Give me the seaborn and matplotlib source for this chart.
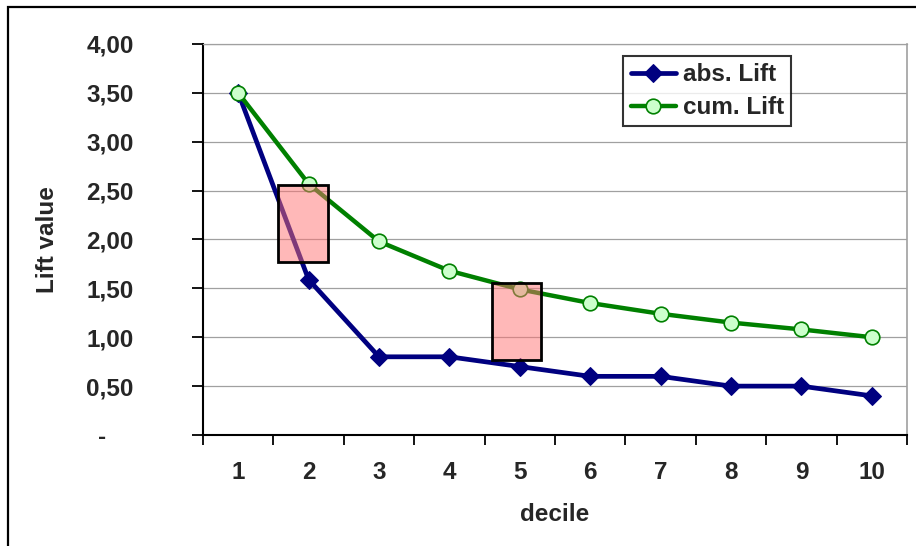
import matplotlib
matplotlib.use('Agg')
import matplotlib.pyplot as plt
import matplotlib.patches as mpatches
import seaborn as sns
import pandas as pd

# --- Data ---
deciles = [1, 2, 3, 4, 5, 6, 7, 8, 9, 10]
abs_lift = [3.50, 1.59, 0.80, 0.80, 0.70, 0.60, 0.60, 0.50, 0.50, 0.40]
cum_lift = [3.50, 2.57, 1.98, 1.68, 1.49, 1.35, 1.24, 1.15, 1.08, 1.00]
y_ticks = [0, 0.5, 1.0, 1.5, 2.0, 2.5, 3.0, 3.5, 4.0]
# highlight boxes (x0, x1, y0, y1) in data units
boxes = [(1.565, 2.28, 1.77, 2.56), (4.60, 5.30, 0.77, 1.55)]

df = pd.DataFrame({'decile': deciles, 'abs': abs_lift, 'cum': cum_lift})

# --- Style ---
sns.set_style('ticks')
plt.rcParams['font.family'] = ['Liberation Sans', 'DejaVu Sans']
plt.rcParams['font.weight'] = 'bold'
plt.rcParams['axes.labelweight'] = 'bold'
FS = 17.5

fig = plt.figure(figsize=(9.16, 5.46), dpi=100)
fig.patch.set_facecolor('white')
ax = fig.add_axes([203 / 916, 111 / 546, 704 / 916, 391 / 546])

sns.lineplot(data=df, x='decile', y='abs', ax=ax, color='#000080', lw=3.4,
             marker='D', markersize=9, markeredgecolor='#000080',
             markerfacecolor='#000080', label='abs. Lift', zorder=3)
sns.lineplot(data=df, x='decile', y='cum', ax=ax, color='#008000', lw=3.2,
             marker='o', markersize=10.5, markeredgecolor='#008000',
             markeredgewidth=1.2, markerfacecolor='#ccffcc',
             label='cum. Lift', zorder=4)

# highlight rectangles (drawn over lines, semi-transparent)
for x0, x1, y0, y1 in boxes:
    ax.add_patch(mpatches.Rectangle((x0, y0), x1 - x0, y1 - y0,
                                    facecolor=(1.0, 0.45, 0.45, 0.5),
                                    edgecolor='black', lw=2, zorder=5))

# --- Axes ---
ax.set_xlim(0.5, 10.5)
ax.set_ylim(0, 4)
ax.set_yticks(y_ticks)
ax.set_yticklabels(['-    '] + [f'{v:.2f}'.replace('.', ',') for v in y_ticks[1:]])
ax.set_xticks([d - 0.5 for d in deciles] + [10.5])
ax.set_xticklabels([])
ax.set_xticks(deciles, minor=True)
ax.set_xticklabels([str(d) for d in deciles], minor=True)
ax.tick_params(axis='x', which='major', length=7, width=1.3, color='black', direction='out')
ax.tick_params(axis='x', which='minor', length=0, pad=19, labelsize=FS)
ax.tick_params(axis='y', length=8, width=1.3, color='black', direction='out',
               pad=42, labelsize=FS)
for lbl in ax.get_xticklabels(minor=True) + ax.get_yticklabels():
    lbl.set_fontweight('bold')

ax.yaxis.grid(True, color='#a0a0a0', lw=0.9)
ax.xaxis.grid(False)
ax.set_axisbelow(True)
ax.spines['left'].set_color('black')
ax.spines['left'].set_linewidth(1.5)
ax.spines['bottom'].set_color('black')
ax.spines['bottom'].set_linewidth(1.5)
ax.spines['right'].set_color('#a0a0a0')
ax.spines['top'].set_color('#a0a0a0')
ax.spines['right'].set_linewidth(1.2)
ax.spines['top'].set_linewidth(0.9)

ax.set_xlabel('decile', fontsize=FS, fontweight='bold')
ax.xaxis.set_label_coords(0.5, -0.175)
ax.set_ylabel('Lift value', fontsize=FS, fontweight='bold')
ax.yaxis.set_label_coords(-0.205, 0.5)

leg = ax.legend(loc='upper left', bbox_to_anchor=(0.597, 0.969), fontsize=FS,
                frameon=True, fancybox=False, edgecolor='black',
                handlelength=1.85, handletextpad=0.3, borderpad=0.3,
                labelspacing=0.4, borderaxespad=0)
leg.get_frame().set_linewidth(1.5)
for t in leg.get_texts():
    t.set_fontweight('bold')

# outer chart frame
fig.add_artist(mpatches.Rectangle((8 / 916, -0.1), 1.2, 1.1 - 7 / 546,
                                  transform=fig.transFigure, fill=False,
                                  edgecolor='black', lw=1.6))

fig.savefig('out.png', dpi=100, facecolor='white')
